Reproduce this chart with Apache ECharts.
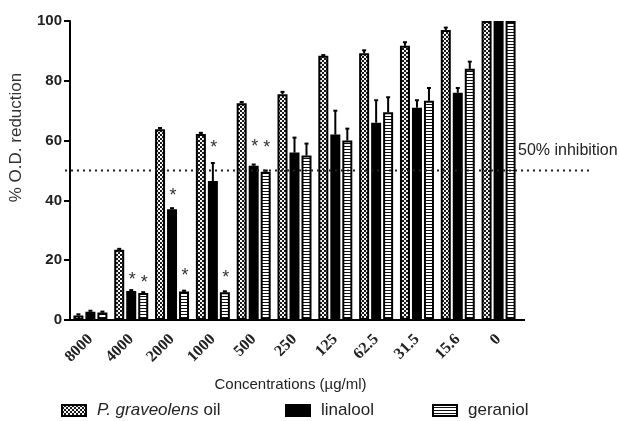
<!DOCTYPE html>
<html>
<head>
<meta charset="utf-8">
<script src="https://cdn.jsdelivr.net/npm/echarts@6/dist/echarts.min.js"></script>
<style>
html,body{margin:0;padding:0;background:#fff;}
#chart{width:619px;height:421px;}
</style>
</head>
<body>
<div id="chart"></div>
<script>
// ---- data ----
const categories = ['8000','4000','2000','1000','500','250','125','62.5','31.5','15.6','0'];
const seriesNames = ['P. graveolens oil','linalool','geraniol'];
const oilValues = [1.5, 23.5, 63.8, 62.2, 72.5, 75.5, 88.4, 89.2, 91.7, 97.0, 100];
const oilErrors = [0.4, 0.3, 0.4, 0.4, 0.4, 0.8, 0.2, 1.0, 1.2, 0.8, 0];
const linValues = [2.8, 9.7, 37.0, 46.5, 51.6, 56.0, 62.0, 66.0, 71.0, 76.0, 100];
const linErrors = [0.3, 0.3, 0.4, 6.0, 0.4, 5.0, 8.0, 7.5, 2.5, 1.6, 0];
const gerValues = [2.5, 9.0, 9.5, 9.3, 49.6, 55.0, 60.0, 69.5, 73.3, 84.0, 100];
const gerErrors = [0.3, 0.3, 0.3, 0.3, 0.4, 4.0, 4.0, 5.0, 4.3, 2.4, 0];
// asterisk (significance) marks, value level where each sits, null = none
const linStars = [null, 13.5, 41.3, 57.4, 57.7, null, null, null, null, null, null];
const gerStars = [null, 12.3, 14.6, 14.0, 57.5, null, null, null, null, null, null];
const yTicks = {min: 0, max: 100, interval: 20};
const refLevel = 50;
const refLabel = '50% inhibition';

// ---- styles ----
const BAR_W = 10, BAR_GAP_PX = 2;
function makePattern(kind){
  const c = document.createElement('canvas');
  const ctx = c.getContext('2d');
  if (kind === 'check') {
    c.width = 4; c.height = 4;
    ctx.fillStyle = '#1a1a1a'; ctx.fillRect(0,0,4,4);
    ctx.fillStyle = '#f4f4f4';
    ctx.fillRect(0,0,2,2); ctx.fillRect(2,2,2,2);
  } else {
    c.width = 4; c.height = 3;
    ctx.fillStyle = '#ffffff'; ctx.fillRect(0,0,4,3);
    ctx.fillStyle = '#111'; ctx.fillRect(0,2,4,1);
  }
  return {image: c, repeat: 'repeat'};
}
const fills = [makePattern('check'), '#000', makePattern('stripe')];

const chart = echarts.init(document.getElementById('chart'), null, {renderer:'canvas'});
const GRID = {left: 69, top: 21, width: 450, height: 299};

function errSeries(idx, vals, errs, stars){
  return {
    type: 'custom',
    z: 5,
    silent: true,
    data: vals.map((v,i)=>[i, v]),
    renderItem: function(params, api){
      const i = params.dataIndex;
      const off = (idx-1)*(BAR_W+BAR_GAP_PX);
      const base = api.coord([i, vals[i]]);
      const top = api.coord([i, vals[i]+errs[i]]);
      const x = base[0] + off;
      const children = [];
      if (errs[i] > 0) {
        children.push({type:'line', shape:{x1:x, y1:base[1], x2:x, y2:top[1]}, style:{stroke:'#000', lineWidth:2}});
        children.push({type:'line', shape:{x1:x-2, y1:top[1], x2:x+2, y2:top[1]}, style:{stroke:'#000', lineWidth:2}});
      }
      if (stars && stars[i] != null) {
        const s = api.coord([i, stars[i]]);
        children.push({type:'text', x: x+1, y: s[1], style:{text:'*', fontSize:18, fontFamily:'Liberation Sans', fill:'#333', align:'center', verticalAlign:'middle'}});
      }
      return {type:'group', children};
    }
  };
}

const option = {
  animation: false,
  backgroundColor: '#fff',
  grid: GRID,
  legend: [
    {data:[seriesNames[0]], left: 56, top: 397},
    {data:[seriesNames[1]], left: 280, top: 397},
    {data:[seriesNames[2]], left: 427, top: 397}
  ].map(l => Object.assign(l, {
    icon: 'rect', itemWidth: 24, itemHeight: 11,
    formatter: n => n === seriesNames[0] ? '{i|P. graveolens} oil' : n,
    textStyle: {fontFamily:'Liberation Sans', fontSize:17, color:'#222', padding:[0,0,0,6],
      rich: {i: {fontStyle:'italic', fontFamily:'Liberation Sans', fontSize:17, color:'#222'}}}
  })),
  xAxis: {
    type: 'category',
    data: categories,
    name: 'Concentrations (µg/ml)',
    nameLocation: 'middle',
    nameGap: 57,
    nameTextStyle: {fontFamily:'Liberation Sans', fontSize:15, color:'#222', padding:[0,8,0,0]},
    axisLine: {lineStyle:{color:'#000', width:2}},
    axisTick: {alignWithLabel:true, length:5, lineStyle:{color:'#000', width:2}},
    axisLabel: {rotate:45, margin:17, interval:0, fontFamily:'Liberation Serif', fontWeight:'bold', fontSize:16, color:'#222'}
  },
  yAxis: {
    type: 'value',
    min: yTicks.min, max: yTicks.max, interval: yTicks.interval,
    name: '% O.D. reduction',
    nameLocation: 'middle',
    nameGap: 45,
    nameTextStyle: {fontFamily:'Liberation Sans', fontSize:17, color:'#333', padding:[0,0,0,66]},
    axisLine: {show:true, lineStyle:{color:'#000', width:2}},
    axisTick: {show:true, length:6, lineStyle:{color:'#000', width:2}},
    axisLabel: {fontFamily:'Liberation Sans', fontWeight:'bold', fontSize:15, color:'#222', margin:8},
    splitLine: {show:false}
  },
  series: [
    {name: seriesNames[0], type:'bar', data: oilValues, barWidth: BAR_W, barGap:'20%',
     itemStyle:{color: fills[0], borderColor:'#000', borderWidth:2}},
    {name: seriesNames[1], type:'bar', data: linValues, barWidth: BAR_W, barGap:'20%',
     itemStyle:{color: fills[1], borderColor:'#000', borderWidth:2}},
    {name: seriesNames[2], type:'bar', data: gerValues, barWidth: BAR_W, barGap:'20%',
     itemStyle:{color: fills[2], borderColor:'#000', borderWidth:2}},
    errSeries(0, oilValues, oilErrors, null),
    errSeries(1, linValues, linErrors, linStars),
    errSeries(2, gerValues, gerErrors, gerStars)
  ]
};
chart.setOption(option);

// reference line (50%) extended beyond the plot, plus its label; small x-axis overhang
const yRef = chart.convertToPixel({yAxisIndex:0}, refLevel);
const yBase = chart.convertToPixel({yAxisIndex:0}, yTicks.min);
const xEnd = GRID.left + GRID.width;
chart.setOption({
  graphic: [
    {type:'line', z:10, shape:{x1: GRID.left-4, y1: yRef, x2: 592, y2: yRef},
     style:{stroke:'#222', lineWidth:2, lineDash:[2,4]}},
    {type:'line', z:10, shape:{x1: xEnd-1, y1: yBase, x2: xEnd+6, y2: yBase},
     style:{stroke:'#000', lineWidth:2}},
    {type:'text', left: 518, top: yRef-28, style:{text: refLabel, fontFamily:'Liberation Sans', fontSize:16, fill:'#222'}}
  ]
});
</script>
</body>
</html>
